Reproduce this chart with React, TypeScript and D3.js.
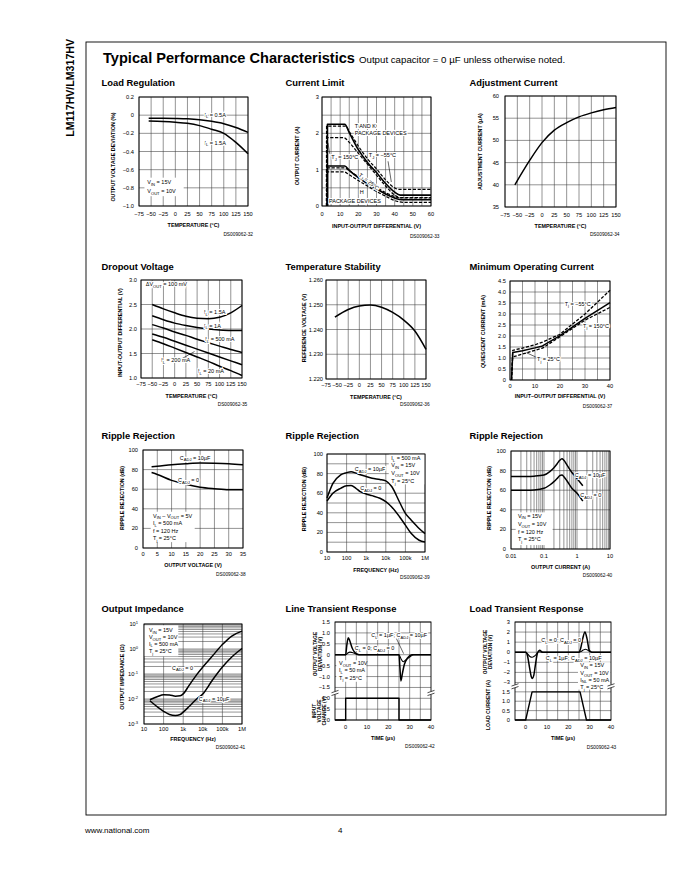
import React from 'react';
import * as d3 from 'd3';

const FONT = "'Liberation Sans', Arial, Helvetica, sans-serif";
const TICK = 5.7;
const ANN = 5.5;
const AXL = 5.4;

// ================= DATA =================
// Load Regulation
const lrTemp = [-55, -25, 0, 25, 50, 75, 100, 125, 150];
const lr05A = [-0.033, -0.034, -0.036, -0.04, -0.05, -0.068, -0.094, -0.135, -0.19];
const lr15A = [-0.065, -0.07, -0.078, -0.09, -0.115, -0.155, -0.2, -0.3, -0.425];

// Current Limit (T/K package and H package, Tj = -55, 25, 150)
const clTK25X = [3, 3, 12.5, 15, 20, 25, 30, 35, 40, 43, 60];
const clTK25Y = [0, 2.25, 2.25, 2.02, 1.55, 1.2, 0.92, 0.62, 0.38, 0.3, 0.3];
const clTKm55X = [2.5, 2.5, 13, 15, 20, 25, 30, 35, 40, 42, 60];
const clTKm55Y = [0, 2.2, 2.2, 2.05, 1.65, 1.3, 1.02, 0.72, 0.5, 0.46, 0.46];
const clTK150X = [2.5, 2.5, 12, 15, 20, 25, 30, 35, 40, 44, 60];
const clTK150Y = [0, 1.88, 1.88, 1.75, 1.45, 1.15, 0.85, 0.55, 0.3, 0.22, 0.22];
const clH25X = [3, 3, 12.5, 15, 20, 25, 30, 35, 40, 44, 60];
const clH25Y = [0, 1.1, 1.1, 0.98, 0.78, 0.62, 0.47, 0.33, 0.22, 0.17, 0.17];
const clHm55X = [2.5, 2.5, 12.5, 15, 20, 25, 30, 35, 40, 42, 60];
const clHm55Y = [0, 1.05, 1.05, 0.97, 0.81, 0.66, 0.51, 0.37, 0.26, 0.23, 0.23];
const clH150X = [2.5, 2.5, 12, 15, 20, 25, 30, 35, 40, 45, 60];
const clH150Y = [0, 0.94, 0.94, 0.86, 0.7, 0.55, 0.4, 0.27, 0.15, 0.1, 0.1];

// Adjustment Current
const acTemp = [-55, -25, 0, 25, 50, 75, 100, 125, 150];
const acCurrent = [40, 45.5, 49.5, 52.3, 54, 55.3, 56.2, 56.9, 57.4];

// Dropout Voltage
const doTemp = [-50, -25, 0, 25, 50, 75, 100, 125, 150];
const do15A = [2.5, 2.41, 2.33, 2.26, 2.22, 2.21, 2.24, 2.33, 2.48];
const do1A = [2.27, 2.19, 2.12, 2.07, 2.03, 2.0, 1.98, 1.97, 1.97];
const do500mA = [2.09, 2.02, 1.94, 1.87, 1.79, 1.72, 1.65, 1.58, 1.52];
const do200mA = [1.9, 1.83, 1.75, 1.67, 1.59, 1.51, 1.43, 1.35, 1.27];
const do20mA = [1.78, 1.7, 1.61, 1.52, 1.43, 1.34, 1.24, 1.15, 1.05];

// Temperature Stability
const tsTemp = [-55, -25, 0, 25, 50, 75, 100, 125, 150];
const tsVref = [1.245, 1.2481, 1.2495, 1.2499, 1.249, 1.2469, 1.2438, 1.2394, 1.232];

// Minimum Operating Current
const moV = [0.6, 1.1, 5, 10, 13, 20, 30, 40];
const moM55 = [0, 1.35, 1.45, 1.6, 1.72, 2.08, 3.0, 4.08];
const mo25 = [0, 1.25, 1.33, 1.46, 1.55, 2.02, 2.8, 3.52];
const mo150 = [0, 1.05, 1.18, 1.35, 1.45, 1.97, 2.72, 3.3];

// Ripple Rejection vs Output Voltage
const rvV = [3, 5, 10, 15, 20, 25, 30, 35];
const rv10uF = [83, 83.5, 85, 86, 86.7, 86.5, 86, 85];
const rv0 = [77, 75, 69, 65, 62, 60.5, 59.5, 59.5];

// Ripple Rejection vs Frequency
const rfF = [10, 20, 50, 100, 170, 300, 500, 1e3, 2e3, 5e3, 1e4, 2e4, 5e4, 1e5, 2e5, 5e5, 1e6];
const rf10uF = [55, 70, 78.8, 81, 82, 80.5, 78.8, 77, 75.3, 74, 72.6, 66.8, 51, 39.4, 32.5, 24, 18.8];
const rf0 = [52, 60, 65, 67.5, 67.8, 65, 61.6, 59.2, 57.5, 54.8, 51.4, 46, 36, 27.4, 18.8, 12, 10.3];

// Ripple Rejection vs Output Current
const riI = [0.01, 0.03, 0.05, 0.1, 0.15, 0.2, 0.25, 0.3, 0.35, 0.4, 0.5, 0.7, 1.0, 1.5];
const ri10uF = [74, 74, 74.3, 75.5, 79, 83, 87, 90.5, 92, 90.5, 85.5, 78, 72, 64.5];
const ri0 = [60, 60, 60.3, 61.9, 65.3, 68.7, 72, 74.8, 75.5, 73.8, 69.4, 62, 57, 49];

// Output Impedance
const ozF = [20, 50, 100, 200, 400, 700, 1e3, 2e3, 5e3, 1e4, 3e4, 1e5, 3e5, 1e6];
const oz0 = [0.0093, 0.0126, 0.0147, 0.0145, 0.013, 0.0135, 0.016, 0.035, 0.097, 0.19, 0.51, 1.5, 3.3, 5.2];
const oz10uF = [0.0085, 0.0047, 0.0032, 0.0024, 0.0022, 0.0024, 0.003, 0.005, 0.0102, 0.016, 0.055, 0.19, 0.48, 1.05];

// Line Transient Response
const ltT0 = [-5, 0, 0.5, 1.2, 2, 3, 4, 5, 6, 25, 25.4, 25.9, 26.6, 27.5, 29, 31, 40];
const ltV0 = [0, 0, 0.4, 0.78, 0.62, 0.32, 0.14, 0.04, 0, 0, -0.55, -1.2, -0.85, -0.45, -0.15, 0, 0];
const ltT1 = [-5, 0, 1, 2, 3, 5, 7, 25, 26, 27, 28, 30, 32, 40];
const ltV1 = [0, 0, 0.08, 0.12, 0.1, 0.04, 0, 0, -0.2, -0.32, -0.25, -0.1, 0, 0];
const ltInT = [-5, 0, 0, 25, 25, 40];
const ltInV = [0, 0, 1, 1, 0, 0];

// Load Transient Response
const ldT0 = [-5, 0, 0.8, 1.8, 2.6, 3.2, 3.8, 4.6, 5.5, 6.5, 8, 25, 25.8, 26.8, 27.8, 28.8, 29.8, 31, 40];
const ldV0 = [0, 0, -0.3, -1.5, -2.4, -2.6, -2.3, -1.2, -0.1, 0.2, 0, 0, 0.4, 1.4, 2.0, 1.3, 0.2, 0, 0];
const ldT1 = [-5, 0, 1, 2, 3, 4, 5, 6, 8, 25, 26, 27, 28, 29, 30, 31, 40];
const ldV1 = [0, 0, -0.2, -0.42, -0.5, -0.4, -0.2, 0.05, 0, 0, 0.08, 0.22, 0.3, 0.22, 0.08, 0, 0];
const ldIT = [-5, 0, 3, 25.5, 28.5, 40];
const ldIV = [0, 0, 1.5, 1.5, 0, 0];

// Tick values
const tempTicks = [-75, -50, -25, 0, 25, 50, 75, 100, 125, 150];
const lrDevTicks = [-1.0, -0.8, -0.6, -0.4, -0.2, 0, 0.2];
const clDiffTicks = [0, 10, 20, 30, 40, 50, 60];
const clCurTicks = [0, 1, 2, 3];
const acTicks = [35, 40, 45, 50, 55, 60];
const doTicks = [1.0, 1.5, 2.0, 2.5, 3.0];
const tsTicks = [1.22, 1.23, 1.24, 1.25, 1.26];
const moVTicks = [0, 10, 20, 30, 40];
const moITicks = [0, 0.5, 1.0, 1.5, 2.0, 2.5, 3.0, 3.5, 4.0, 4.5];
const rrTicks = [0, 20, 40, 60, 80, 100];
const rrVTicks = [0, 5, 10, 15, 20, 25, 30, 35];
const freqTicks = [10, 100, 1e3, 1e4, 1e5, 1e6];
const freqLabels = ['10', '100', '1k', '10k', '100k', '1M'];
const ioTicks = [0.01, 0.1, 1, 10];
const ioLabels = ['0.01', '0.1', '1', '10'];
const zTicks = [1e-3, 1e-2, 1e-1, 1, 10];
const zLabels = ['10^{-3}', '10^{-2}', '10^{-1}', '10^{0}', '10^{1}'];
const timeTicks = [0, 10, 20, 30, 40];
const ltDevTicks = [-1.5, -1.0, -0.5, 0, 0.5, 1.0, 1.5];
const ltInTicks = [0, 0.5, 1.0];
const ldDevTicks = [-3, -2, -1, 0, 1, 2, 3];
const ldCurTicks = [0, 0.5, 1.0, 1.5];

// ================= HELPERS =================
const fmtD = (v: number) => (v === 0 ? '0' : d3.format('.1f')(v));
const fmtI = d3.format('d');
const fmt3 = d3.format('.3f');
const steps = (a: number, b: number, s: number) => d3.range(a, b + s / 2, s).map((v) => +v.toFixed(6));
const logMinor = (d0: number, d1: number) => {
  const out: number[] = [];
  for (let d = d0; d < d1; d++) for (let k = 1; k < 10; k++) out.push(k * Math.pow(10, d));
  out.push(Math.pow(10, d1));
  return out;
};

type AxisDef = { log?: boolean; domain: [number, number]; grid: number[]; ticks: number[]; labels: string[] };
type Series = { x: number[]; y: number[]; dash?: boolean; lower?: boolean; mode?: 'smooth' | 'linear' | 'head'; w?: number };
type Ann = { fx: number; fy: number; t: string; anchor?: 'start' | 'middle' | 'end'; rot?: number; halo?: boolean };
type Seg = [number, number, number, number];
type YLab = { lines: string[]; x: number; fy: number; size?: number; gap?: number };
type ChartDef = {
  title: string; tx: number; ty: number;
  l: number; t: number; r: number; b: number;
  x: AxisDef; y: AxisDef; y2?: AxisDef; split?: number;
  yGap: number; xTickY: number; xLabel: string; xLabelY: number;
  yLabels: YLab[]; ds: string; dsX: number; dsY: number;
  series: Series[]; boxes?: Seg[]; anns?: Ann[]; leaders?: Seg[]; breakFy?: number;
};

const ax = (domain: [number, number], grid: number[], ticks: number[], labels: string[], log = false): AxisDef => ({
  domain, grid, ticks, labels, log,
});

function mkScale(a: AxisDef, range: [number, number]) {
  return a.log ? d3.scaleLog().domain(a.domain).range(range) : d3.scaleLinear().domain(a.domain).range(range);
}

function Rich({ s, size }: { s: string; size: number }) {
  const parts = s.split(/(\^\{[^}]*\}|\{[^}]*\})/).filter((p) => p !== '');
  let shift = 0;
  return (
    <>
      {parts.map((p, i) => {
        let target = 0;
        let txt = p;
        let fs = size;
        if (p.startsWith('^{')) {
          target = -size * 0.42;
          txt = p.slice(2, -1);
          fs = size * 0.72;
        } else if (p.startsWith('{')) {
          target = size * 0.3;
          txt = p.slice(1, -1);
          fs = size * 0.75;
        }
        const dy = target - shift;
        shift = target;
        return (
          <tspan key={i} dy={dy} fontSize={fs}>
            {txt}
          </tspan>
        );
      })}
    </>
  );
}

const smoothLine = d3.line<[number, number]>().curve(d3.curveMonotoneX);
const linLine = d3.line<[number, number]>();

function seriesPath(s: Series, xs: (v: number) => number, ys: (v: number) => number) {
  const pts: [number, number][] = s.x.map((xv, i) => [xs(xv), ys(s.y[i])]);
  if (s.mode === 'linear') return linLine(pts) || '';
  if (s.mode === 'head') {
    const rest = smoothLine(pts.slice(1)) || '';
    return `M${pts[0][0]},${pts[0][1]}L${rest.slice(1)}`;
  }
  return smoothLine(pts) || '';
}

function Chart({ c }: { c: ChartDef }) {
  const { l, t, r, b } = c;
  const w = r - l;
  const h = b - t;
  const split = c.split ?? 1;
  const yMid = t + h * split;
  const xs = mkScale(c.x, [l, r]);
  const ys = mkScale(c.y, [yMid, t]);
  const ys2 = c.y2 ? mkScale(c.y2, [b, yMid]) : null;
  const PX = (f: number) => l + f * w;
  const PY = (f: number) => t + f * h;
  const gridStroke = '#3a3a3a';
  return (
    <g>
      <text x={c.tx} y={c.ty} fontSize={9.4} fontWeight="bold" fill="#000">
        {c.title}
      </text>
      {/* grid */}
      <g stroke={gridStroke} strokeWidth={0.55}>
        {c.x.grid.map((v, i) => (
          <line key={'gx' + i} x1={xs(v)} x2={xs(v)} y1={t} y2={b} />
        ))}
        {c.y.grid.map((v, i) => (
          <line key={'gy' + i} x1={l} x2={r} y1={ys(v)} y2={ys(v)} />
        ))}
        {c.y2 && ys2 &&
          c.y2.grid.map((v, i) => <line key={'gy2' + i} x1={l} x2={r} y1={ys2(v)} y2={ys2(v)} />)}
      </g>
      {/* white label boxes */}
      {(c.boxes || []).map((bx, i) => (
        <rect key={'bx' + i} x={PX(bx[0])} y={PY(bx[1])} width={PX(bx[2]) - PX(bx[0])} height={PY(bx[3]) - PY(bx[1])} fill="#fff" />
      ))}
      {/* frame */}
      <rect x={l} y={t} width={w} height={h} fill="none" stroke="#000" strokeWidth={0.9} />
      {c.breakFy !== undefined &&
        [l, r].map((ex, i) => (
          <g key={'br' + i}>
            <rect x={ex - 1.5} y={PY(c.breakFy!) - 1.6} width={3} height={3.2} fill="#fff" />
            <line x1={ex - 3.5} y1={PY(c.breakFy!) - 0.2} x2={ex + 3.5} y2={PY(c.breakFy!) - 2.6} stroke="#000" strokeWidth={0.7} />
            <line x1={ex - 3.5} y1={PY(c.breakFy!) + 2.6} x2={ex + 3.5} y2={PY(c.breakFy!) + 0.2} stroke="#000" strokeWidth={0.7} />
          </g>
        ))}
      {/* series */}
      {c.series.map((s, i) => (
        <path
          key={'s' + i}
          d={seriesPath(s, xs, s.lower && ys2 ? ys2 : ys)}
          fill="none"
          stroke="#000"
          strokeWidth={s.w ?? 1.5}
          strokeDasharray={s.dash ? '3.2,1.6' : undefined}
          strokeLinejoin="round"
        />
      ))}
      {/* leaders */}
      {(c.leaders || []).map((sg, i) => (
        <line key={'ld' + i} x1={PX(sg[0])} y1={PY(sg[1])} x2={PX(sg[2])} y2={PY(sg[3])} stroke="#000" strokeWidth={0.6} />
      ))}
      {/* annotations */}
      {(c.anns || []).map((a, i) => (
        <text
          key={'an' + i}
          x={PX(a.fx)}
          y={PY(a.fy)}
          fontSize={ANN}
          textAnchor={a.anchor || 'start'}
          transform={a.rot ? `rotate(${a.rot},${PX(a.fx)},${PY(a.fy)})` : undefined}
          stroke={a.halo ? '#fff' : undefined}
          strokeWidth={a.halo ? 2.2 : undefined}
          paintOrder="stroke"
          fill="#000"
        >
          <Rich s={a.t} size={ANN} />
        </text>
      ))}
      {/* tick labels */}
      <g fontSize={TICK} fill="#000">
        {c.x.ticks.map((v, i) => (
          <text key={'tx' + i} x={xs(v)} y={c.xTickY} textAnchor="middle">
            {c.x.labels[i]}
          </text>
        ))}
        {c.y.ticks.map((v, i) => (
          <text key={'ty' + i} x={l - c.yGap} y={ys(v) + 2} textAnchor="end">
            <Rich s={c.y.labels[i]} size={TICK} />
          </text>
        ))}
        {c.y2 && ys2 &&
          c.y2.ticks.map((v, i) => (
            <text key={'ty2' + i} x={l - c.yGap} y={ys2(v) + 2} textAnchor="end">
              {c.y2!.labels[i]}
            </text>
          ))}
      </g>
      {/* axis labels */}
      <text x={(l + r) / 2} y={c.xLabelY} fontSize={AXL} fontWeight="bold" textAnchor="middle">
        {c.xLabel}
      </text>
      {c.yLabels.map((yl, i) => {
        const cy = PY(yl.fy);
        const gap = yl.gap ?? 4.3;
        return yl.lines.map((ln, j) => (
          <text
            key={'yl' + i + '_' + j}
            transform={`translate(${yl.x + j * gap},${cy}) rotate(-90)`}
            fontSize={yl.size ?? AXL}
            fontWeight="bold"
            textAnchor="middle"
          >
            {ln}
          </text>
        ));
      })}
      <text x={c.dsX} y={c.dsY} fontSize={4.8} textAnchor="end">
        {c.ds}
      </text>
    </g>
  );
}

// ================= CHART DEFINITIONS =================
const tempAxis = ax([-75, 150], tempTicks, tempTicks, tempTicks.map(fmtI));

const charts: ChartDef[] = [
  {
    title: 'Load Regulation', tx: 101.5, ty: 85.5, l: 139, t: 97, r: 248, b: 206,
    x: tempAxis,
    y: ax([-1, 0.2], lrDevTicks, lrDevTicks, lrDevTicks.map(fmtD)),
    yGap: 5, xTickY: 215.7, xLabel: 'TEMPERATURE (°C)', xLabelY: 227.3,
    yLabels: [{ lines: ['OUTPUT VOLTAGE DEVIATION (%)'], x: 115, fy: 0.55 }],
    ds: 'DS009062-32', dsX: 253, dsY: 235.7,
    series: [{ x: lrTemp, y: lr05A }, { x: lrTemp, y: lr15A }],
    boxes: [[0.05, 0.74, 0.41, 0.91]],
    anns: [
      { fx: 0.6, fy: 0.18, t: 'I{L} = 0.5A', halo: true },
      { fx: 0.6, fy: 0.436, t: 'I{L} = 1.5A', halo: true },
      { fx: 0.076, fy: 0.8, t: 'V{IN} = 15V' },
      { fx: 0.076, fy: 0.885, t: 'V{OUT} = 10V' },
    ],
  },
  {
    title: 'Current Limit', tx: 285.5, ty: 85.5, l: 322, t: 97, r: 431, b: 206,
    x: ax([0, 60], steps(0, 60, 5), clDiffTicks, clDiffTicks.map(fmtI)),
    y: ax([0, 3], steps(0, 3, 0.5), clCurTicks, clCurTicks.map(fmtI)),
    yGap: 3, xTickY: 215.7, xLabel: 'INPUT-OUTPUT DIFFERENTIAL (V)', xLabelY: 228,
    yLabels: [{ lines: ['OUTPUT CURRENT (A)'], x: 299, fy: 0.54 }],
    ds: 'DS009062-33', dsX: 439.5, dsY: 238,
    series: [
      { x: clTK25X, y: clTK25Y, mode: 'head', w: 1.6 },
      { x: clTKm55X, y: clTKm55Y, mode: 'head', dash: true, w: 1.2 },
      { x: clTK150X, y: clTK150Y, mode: 'head', dash: true, w: 1.2 },
      { x: clH25X, y: clH25Y, mode: 'head', w: 1.6 },
      { x: clHm55X, y: clHm55Y, mode: 'head', dash: true, w: 1.2 },
      { x: clH150X, y: clH150Y, mode: 'head', dash: true, w: 1.2 },
    ],
    anns: [
      { fx: 0.3, fy: 0.28, t: 'T AND K', halo: true },
      { fx: 0.3, fy: 0.349, t: 'PACKAGE DEVICES', halo: true },
      { fx: 0.085, fy: 0.569, t: 'T{J} = 150°C', halo: true },
      { fx: 0.43, fy: 0.553, t: 'T{J} = −55°C', halo: true },
      { fx: 0.42, fy: 0.79, t: 'T{J} = 25°C', anchor: 'middle', rot: 38, halo: true },
      { fx: 0.346, fy: 0.89, t: 'H', halo: true },
      { fx: 0.064, fy: 0.975, t: 'PACKAGE DEVICES', halo: true },
    ],
    leaders: [
      [0.07, 0.52, 0.055, 0.42],
      [0.606, 0.59, 0.636, 0.78],
    ],
  },
  {
    title: 'Adjustment Current', tx: 469.5, ty: 85.5, l: 505, t: 96, r: 616, b: 207,
    x: tempAxis,
    y: ax([35, 60], acTicks, acTicks, acTicks.map(fmtI)),
    yGap: 6, xTickY: 216.7, xLabel: 'TEMPERATURE (°C)', xLabelY: 228.3,
    yLabels: [{ lines: ['ADJUSTMENT CURRENT (µA)'], x: 481.7, fy: 0.5 }],
    ds: 'DS009062-34', dsX: 619.5, dsY: 236.3,
    series: [{ x: acTemp, y: acCurrent }],
  },
  {
    title: 'Dropout Voltage', tx: 101.5, ty: 270, l: 141, t: 280, r: 242, b: 378,
    x: tempAxis,
    y: ax([1, 3], doTicks, doTicks, doTicks.map(fmtD)),
    yGap: 4, xTickY: 386.3, xLabel: 'TEMPERATURE (°C)', xLabelY: 397.7,
    yLabels: [{ lines: ['INPUT-OUTPUT DIFFERENTIAL (V)'], x: 121.7, fy: 0.536 }],
    ds: 'DS009062-35', dsX: 247.3, dsY: 406,
    series: [
      { x: doTemp, y: do15A },
      { x: doTemp, y: do1A },
      { x: doTemp, y: do500mA },
      { x: doTemp, y: do200mA },
      { x: doTemp, y: do20mA },
    ],
    anns: [
      { fx: 0.047, fy: 0.064, t: 'ΔV{OUT} = 100 mV', halo: true },
      { fx: 0.624, fy: 0.347, t: 'I{L} = 1.5A', halo: true },
      { fx: 0.624, fy: 0.485, t: 'I{L} = 1A', halo: true },
      { fx: 0.637, fy: 0.622, t: 'I{L} = 500 mA', halo: true },
      { fx: 0.2, fy: 0.837, t: 'I{L} = 200 mA', halo: true },
      { fx: 0.564, fy: 0.954, t: 'I{L} = 20 mA', halo: true },
    ],
    leaders: [[0.4, 0.806, 0.53, 0.73]],
  },
  {
    title: 'Temperature Stability', tx: 285.5, ty: 270, l: 326, t: 280, r: 426, b: 379,
    x: tempAxis,
    y: ax([1.22, 1.26], tsTicks, tsTicks, tsTicks.map(fmt3)),
    yGap: 3, xTickY: 387, xLabel: 'TEMPERATURE (°C)', xLabelY: 398.7,
    yLabels: [{ lines: ['REFERENCE VOLTAGE (V)'], x: 305.7, fy: 0.485 }],
    ds: 'DS009062-36', dsX: 429.7, dsY: 406.3,
    series: [{ x: tsTemp, y: tsVref }],
  },
  {
    title: 'Minimum Operating Current', tx: 469.5, ty: 270, l: 510, t: 281, r: 610, b: 380,
    x: ax([0, 40], steps(0, 40, 5), moVTicks, moVTicks.map(fmtI)),
    y: ax([0, 4.5], moITicks, moITicks, moITicks.map(fmtD)),
    yGap: 4, xTickY: 387.7, xLabel: 'INPUT–OUTPUT DIFFERENTIAL (V)', xLabelY: 398,
    yLabels: [{ lines: ['QUIESCENT CURRENT (mA)'], x: 485, fy: 0.511 }],
    ds: 'DS009062-37', dsX: 612.3, dsY: 407.7,
    series: [
      { x: moV, y: moM55, mode: 'linear', dash: true, w: 1.3 },
      { x: moV, y: mo25, mode: 'linear', w: 1.5 },
      { x: moV, y: mo150, mode: 'linear', dash: true, w: 1.3 },
    ],
    anns: [
      { fx: 0.547, fy: 0.25, t: 'T{j} = −55°C', halo: true },
      { fx: 0.73, fy: 0.47, t: 'T{j} = 150°C', halo: true },
      { fx: 0.27, fy: 0.808, t: 'T{j} = 25°C', halo: true },
    ],
    leaders: [[0.263, 0.77, 0.163, 0.724]],
  },
  {
    title: 'Ripple Rejection', tx: 101.5, ty: 439, l: 143, t: 450, r: 243, b: 548,
    x: ax([0, 35], rrVTicks, rrVTicks, rrVTicks.map(fmtI)),
    y: ax([0, 100], rrTicks, rrTicks, rrTicks.map(fmtI)),
    yGap: 5, xTickY: 556.3, xLabel: 'OUTPUT VOLTAGE (V)', xLabelY: 567,
    yLabels: [{ lines: ['RIPPLE REJECTION (dB)'], x: 124, fy: 0.49 }],
    ds: 'DS009062-38', dsX: 245.7, dsY: 576,
    series: [{ x: rvV, y: rv10uF }, { x: rvV, y: rv0 }],
    boxes: [[0.077, 0.63, 0.517, 0.94]],
    anns: [
      { fx: 0.367, fy: 0.1, t: 'C{ADJ} = 10µF', halo: true },
      { fx: 0.35, fy: 0.326, t: 'C{ADJ} = 0', halo: true },
      { fx: 0.1, fy: 0.689, t: 'V{IN} – V{OUT} = 5V' },
      { fx: 0.1, fy: 0.765, t: 'I{L} = 500 mA' },
      { fx: 0.1, fy: 0.847, t: 'f = 120 Hz' },
      { fx: 0.1, fy: 0.921, t: 'T{j} = 25°C' },
    ],
  },
  {
    title: 'Ripple Rejection', tx: 285.5, ty: 439, l: 327, t: 454, r: 425, b: 552,
    x: ax([10, 1e6], freqTicks, freqTicks, freqLabels, true),
    y: ax([0, 100], steps(0, 100, 10), rrTicks, rrTicks.map(fmtI)),
    yGap: 4, xTickY: 560.3, xLabel: 'FREQUENCY (Hz)', xLabelY: 572,
    yLabels: [{ lines: ['RIPPLE REJECTION (dB)'], x: 305.7, fy: 0.46 }],
    ds: 'DS009062-39', dsX: 429.7, dsY: 579.3,
    series: [{ x: rfF, y: rf10uF }, { x: rfF, y: rf0 }],
    boxes: [[0.63, 0.0, 1.0, 0.31]],
    anns: [
      { fx: 0.656, fy: 0.064, t: 'I{L} = 500 mA' },
      { fx: 0.656, fy: 0.133, t: 'V{IN} = 15V' },
      { fx: 0.656, fy: 0.217, t: 'V{OUT} = 10V' },
      { fx: 0.656, fy: 0.296, t: 'T{j} = 25°C' },
      { fx: 0.283, fy: 0.173, t: 'C{ADJ} = 10µF', halo: true },
      { fx: 0.34, fy: 0.37, t: 'C{ADJ} = 0', halo: true },
    ],
  },
  {
    title: 'Ripple Rejection', tx: 469.5, ty: 439, l: 511, t: 451, r: 610, b: 549,
    x: ax([0.01, 10], logMinor(-2, 1), ioTicks, ioLabels, true),
    y: ax([0, 100], rrTicks, rrTicks, rrTicks.map(fmtI)),
    yGap: 5, xTickY: 558, xLabel: 'OUTPUT CURRENT (A)', xLabelY: 569,
    yLabels: [{ lines: ['RIPPLE REJECTION (dB)'], x: 491, fy: 0.48 }],
    ds: 'DS009062-40', dsX: 612.3, dsY: 577,
    series: [{ x: riI, y: ri10uF }, { x: riI, y: ri0 }],
    boxes: [[0.047, 0.626, 0.42, 0.96]],
    anns: [
      { fx: 0.643, fy: 0.27, t: 'C{ADJ} = 10µF', halo: true },
      { fx: 0.7, fy: 0.474, t: 'C{ADJ} = 0', halo: true },
      { fx: 0.07, fy: 0.68, t: 'V{IN} = 15V' },
      { fx: 0.07, fy: 0.765, t: 'V{OUT} = 10V' },
      { fx: 0.07, fy: 0.842, t: 'f = 120 Hz' },
      { fx: 0.07, fy: 0.92, t: 'T{j} = 25°C' },
    ],
  },
  {
    title: 'Output Impedance', tx: 101.5, ty: 611.5, l: 144, t: 624, r: 242, b: 724,
    x: ax([10, 1e6], freqTicks, freqTicks, freqLabels, true),
    y: ax([1e-3, 10], logMinor(-3, 1), zTicks, zLabels, true),
    yGap: 6, xTickY: 730.7, xLabel: 'FREQUENCY (Hz)', xLabelY: 741.3,
    yLabels: [{ lines: ['OUTPUT IMPEDANCE (Ω)'], x: 124, fy: 0.53 }],
    ds: 'DS009062-41', dsX: 245.3, dsY: 749,
    series: [{ x: ozF, y: oz0 }, { x: ozF, y: oz10uF }],
    boxes: [[0.0, 0.013, 0.35, 0.323]],
    anns: [
      { fx: 0.05, fy: 0.083, t: 'V{IN} = 15V' },
      { fx: 0.05, fy: 0.15, t: 'V{OUT} = 10V' },
      { fx: 0.05, fy: 0.217, t: 'I{L} = 500 mA' },
      { fx: 0.05, fy: 0.293, t: 'T{j} = 25°C' },
      { fx: 0.286, fy: 0.457, t: 'C{ADJ} = 0', halo: true },
      { fx: 0.558, fy: 0.767, t: 'C{ADJ} = 10µF', halo: true },
    ],
  },
  {
    title: 'Line Transient Response', tx: 285.5, ty: 611.5, l: 335, t: 622, r: 431, b: 720,
    x: ax([-5, 40], steps(0, 35, 5), timeTicks, timeTicks.map(fmtI)),
    y: ax([-1.5, 1.5], ltDevTicks, ltDevTicks, ltDevTicks.map(fmtD)),
    y2: ax([0, 1.5], ltInTicks, ltInTicks, ltInTicks.map(fmtD)),
    split: 0.668,
    yGap: 5, xTickY: 729, xLabel: 'TIME (µs)', xLabelY: 740,
    yLabels: [
      { lines: ['OUTPUT VOLTAGE', 'DEVIATION (V)'], x: 316.6, fy: 0.327, size: 4.9, gap: 5 },
      { lines: ['INPUT', 'VOLTAGE', 'CHANGE (V)'], x: 315.8, fy: 0.908, size: 4.9, gap: 5 },
    ],
    ds: 'DS009062-42', dsX: 434.7, dsY: 748,
    breakFy: 0.724,
    series: [
      { x: ltT0, y: ltV0, w: 1.5 },
      { x: ltT1, y: ltV1, w: 1.1 },
      { x: ltInT, y: ltInV, lower: true, mode: 'linear', w: 1.4 },
    ],
    boxes: [[0.014, 0.39, 0.326, 0.61]],
    anns: [
      { fx: 0.378, fy: 0.156, t: 'C{L} = 1µF; C{ADJ} = 10µF', halo: true },
      { fx: 0.205, fy: 0.29, t: 'C{L} = 0; C{ADJ} = 0', halo: true },
      { fx: 0.042, fy: 0.439, t: 'V{OUT} = 10V' },
      { fx: 0.042, fy: 0.513, t: 'I{L} = 50 mA' },
      { fx: 0.042, fy: 0.59, t: 'T{j} = 25°C' },
    ],
    leaders: [[0.64, 0.17, 0.715, 0.323]],
  },
  {
    title: 'Load Transient Response', tx: 469.5, ty: 611.5, l: 515, t: 622, r: 611, b: 720,
    x: ax([-5, 40], steps(0, 35, 5), timeTicks, timeTicks.map(fmtI)),
    y: ax([-3, 3], ldDevTicks, ldDevTicks, ldDevTicks.map(fmtI)),
    y2: ax([0, 2], ldCurTicks, ldCurTicks, ldCurTicks.map(fmtD)),
    split: 0.617,
    yGap: 5, xTickY: 729, xLabel: 'TIME (µs)', xLabelY: 740,
    yLabels: [
      { lines: ['OUTPUT VOLTAGE', 'DEVIATION (V)'], x: 486.6, fy: 0.306, size: 4.9, gap: 5 },
      { lines: ['LOAD CURRENT (A)'], x: 490, fy: 0.847, size: 5.2 },
    ],
    ds: 'DS009062-43', dsX: 616.3, dsY: 749,
    breakFy: 0.656,
    series: [
      { x: ldT0, y: ldV0, w: 1.5 },
      { x: ldT1, y: ldV1, w: 1.1 },
      { x: ldIT, y: ldIV, lower: true, mode: 'linear', w: 1.4 },
    ],
    boxes: [[0.656, 0.41, 0.997, 0.69]],
    anns: [
      { fx: 0.274, fy: 0.207, t: 'C{L} = 0; C{ADJ} = 0', halo: true },
      { fx: 0.32, fy: 0.388, t: 'C{L} = 1µF; C{ADJ} = 10µF', halo: true },
      { fx: 0.68, fy: 0.462, t: 'V{IN} = 15V' },
      { fx: 0.68, fy: 0.541, t: 'V{OUT} = 10V' },
      { fx: 0.68, fy: 0.609, t: 'I{NL} = 50 mA' },
      { fx: 0.68, fy: 0.684, t: 'T{j} = 25°C' },
    ],
  },
];

export default function App() {
  return (
    <div style={{ position: 'absolute', left: 0, top: 0 }}>
      <svg width={680} height={880} viewBox="0 0 680 880" fontFamily={FONT} style={{ display: 'block' }}>
        <rect x={0} y={0} width={680} height={880} fill="#fff" />
        {/* page frame */}
        <rect x={86} y={42} width={580} height={773} fill="none" stroke="#000" strokeWidth={0.9} />
        {/* side label */}
        <text transform="translate(74,39) rotate(-90)" fontSize={10.6} fontWeight="bold" textAnchor="end">
          LM117HV/LM317HV
        </text>
        {/* header */}
        <text x={103} y={63} fontSize={14.6} fontWeight="bold">
          Typical Performance Characteristics
          <tspan fontSize={9.7} fontWeight="normal" dx={4}>
            Output capacitor = 0 µF unless otherwise noted.
          </tspan>
        </text>
        {charts.map((c) => (
          <Chart key={c.ds} c={c} />
        ))}
        {/* footer */}
        <text x={85} y={833} fontSize={8}>
          www.national.com
        </text>
        <text x={338} y={833} fontSize={8}>
          4
        </text>
      </svg>
    </div>
  );
}
